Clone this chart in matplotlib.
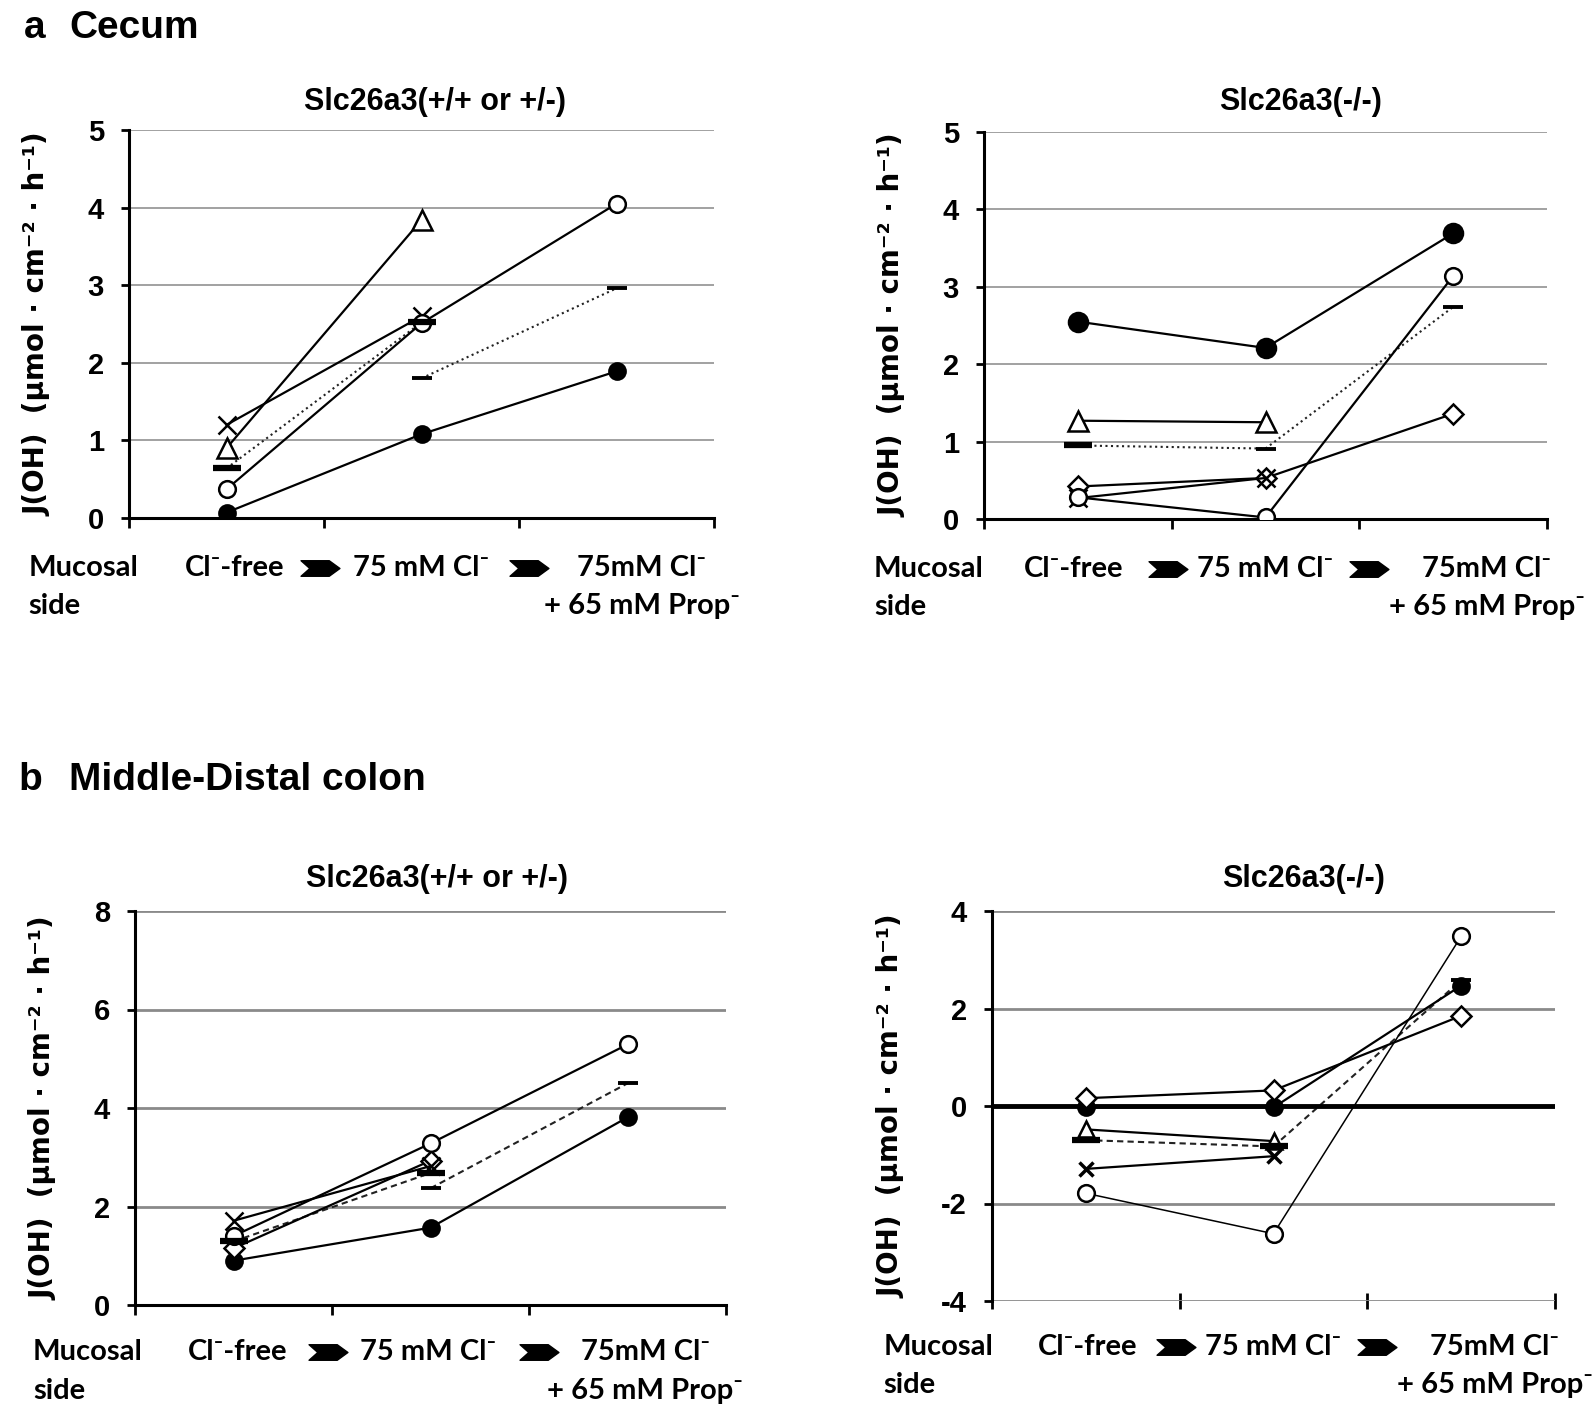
import numpy as np
import matplotlib
matplotlib.use("Agg")
import matplotlib.pyplot as plt
from matplotlib.path import Path
from matplotlib import transforms

plt.rcParams['axes.unicode_minus'] = False
plt.rcParams['font.family'] = ['Liberation Sans', 'DejaVu Sans']
plt.rcParams['font.weight'] = 'bold'

nan = np.nan
steps = [1, 2, 3]
step_row1 = ['Cl⁻-free', '75 mM Cl⁻', '75mM Cl⁻']
step_row2 = ['', '', '+ 65 mM Prop⁻']

# a: cecum, wild type / het
cec_wt_open = [0.37, 2.51, 4.05]
cec_wt_filled = [0.07, 1.08, 1.89]
cec_wt_tri = [0.90, 3.84, nan]
cec_wt_cross = [1.20, 2.60, nan]
cec_wt_mean_all = [0.64, 2.52, nan]
cec_wt_mean_prop = [nan, 1.80, 2.96]

# a: cecum, knockout
cec_ko_filled = [2.55, 2.21, 3.69]
cec_ko_open = [0.28, 0.02, 3.14]
cec_ko_tri = [1.27, 1.25, nan]
cec_ko_diam = [0.42, 0.53, 1.36]
cec_ko_cross = [0.27, 0.53, nan]
cec_ko_mean = [0.95, 0.91, 2.74]

# b: middle-distal colon, wild type / het
col_wt_open = [1.40, 3.28, 5.29]
col_wt_filled = [0.90, 1.57, 3.81]
col_wt_cross = [1.71, 2.82, nan]
col_wt_diam = [1.15, 2.93, nan]
col_wt_mean_all = [1.29, 2.68, nan]
col_wt_mean_prop = [nan, 2.37, 4.50]

# b: middle-distal colon, knockout
col_ko_open = [-1.79, -2.62, 3.48]
col_ko_filled = [-0.03, -0.03, 2.47]
col_ko_diam = [0.16, 0.32, 1.85]
col_ko_tri = [-0.48, -0.72, nan]
col_ko_cross = [-1.29, -1.03, nan]
col_ko_mean = [-0.70, -0.83, 2.58]

W, H = 1594, 1424
fig = plt.figure(figsize=(W / 100, H / 100), dpi=100)
K = 72 / 100  # px -> pt

calibri = ['Lato', 'DejaVu Sans']
ylab = 'J(OH)  (µmol · cm⁻² · h⁻¹)'

chev = Path([(-1, 0.4), (0.45, 0.4), (1, 0), (0.45, -0.4), (-1, -0.4), (-0.55, 0), (-1, 0.4)],
            [Path.MOVETO] + [Path.LINETO] * 5 + [Path.CLOSEPOLY])

OPEN = dict(marker='o', mfc='white', mec='k', ms=12, mew=1.8)
FILL = dict(marker='o', mfc='k', mec='k', ms=12, mew=1.5)
TRI = dict(marker='^', mfc='white', mec='k', ms=15, mew=1.8)
CROSS = dict(marker='x', mec='k', ms=13, mew=1.8)
DIAM = dict(marker='D', mfc='white', mec='k', ms=10, mew=1.8)


def axes_px(l, t, r, b):
    return fig.add_axes([l / W, 1 - b / H, (r - l) / W, (b - t) / H])


def setup(ax, ylim, yticks, grid_c, grid_lw):
    ax.set_xlim(0.5, 3.5)
    ax.set_ylim(*ylim)
    ax.set_yticks(yticks)
    ax.set_yticklabels([str(v) for v in yticks])
    ax.set_xticks([0.5, 1.5, 2.5, 3.5])
    ax.set_xticklabels([])
    for s in ['top', 'right']:
        ax.spines[s].set_visible(False)
    ax.spines['left'].set_linewidth(2.2)
    ax.spines['bottom'].set_linewidth(2.2)
    ax.tick_params(axis='y', length=6, width=2, pad=12, labelsize=21)
    ax.tick_params(axis='x', length=7, width=2)
    ax.yaxis.grid(True, color=grid_c, lw=grid_lw)
    ax.set_axisbelow(True)
    ax.set_ylabel(ylab, family=['DejaVu Sans'], fontsize=20, fontweight='bold', labelpad=26)


def step_labels(ax, xs, muc_x, dy1=50, dy2=88):
    tr = ax.get_xaxis_transform()
    ax.annotate('Mucosal', xy=(muc_x, 0), xycoords=tr, xytext=(0, -dy1 * K), textcoords='offset points',
                ha='left', va='center', family=calibri, fontsize=21, fontweight='bold', annotation_clip=False)
    ax.annotate('side', xy=(muc_x, 0), xycoords=tr, xytext=(0, -dy2 * K), textcoords='offset points',
                ha='left', va='center', family=calibri, fontsize=21, fontweight='bold', annotation_clip=False)
    for x, r1, r2 in zip(xs, step_row1, step_row2):
        ax.annotate(r1, xy=(x, 0), xycoords=tr, xytext=(0, -dy1 * K), textcoords='offset points',
                    ha='center', va='center', family=calibri, fontsize=21, fontweight='bold', annotation_clip=False)
        if r2:
            ax.annotate(r2, xy=(x, 0), xycoords=tr, xytext=(0, -dy2 * K), textcoords='offset points',
                        ha='center', va='center', family=calibri, fontsize=21, fontweight='bold',
                        annotation_clip=False)
    off = transforms.offset_copy(tr, fig=fig, x=0, y=-dy1, units='dots')
    ax.plot([1.48, 2.55], [0, 0], ls='none', marker=chev, ms=28, color='k', transform=off, clip_on=False)


def series(ax, y, style, lw=1.6, ls='-'):
    ax.plot(steps, y, color='k', lw=lw, ls=ls, zorder=3, **style)


def mean_line(ax, y, ls, thick_idx, thin_idx):
    ax.plot(steps, y, color='#222222', lw=1.5, ls=ls, zorder=2)
    for i in thick_idx:
        ax.plot([steps[i]], [y[i]], marker='_', ms=20, mew=4.5, color='k', zorder=5)
    for i in thin_idx:
        ax.plot([steps[i]], [y[i]], marker='_', ms=14, mew=2.8, color='k', zorder=5)


# ---------- a left
ax = axes_px(129, 130, 714, 518)
setup(ax, (0, 5), [0, 1, 2, 3, 4, 5], '#9a9a9a', 1.3)
mean_line(ax, cec_wt_mean_all, ':', [0, 1], [])
mean_line(ax, cec_wt_mean_prop, ':', [], [1, 2])
series(ax, cec_wt_tri, TRI)
series(ax, cec_wt_cross, CROSS)
series(ax, cec_wt_filled, FILL)
series(ax, cec_wt_open, OPEN)
step_labels(ax, [1.04, 2.0, 3.13], -0.015)

# ---------- a right
ax = axes_px(984, 132, 1547, 519)
setup(ax, (0, 5), [0, 1, 2, 3, 4, 5], '#9a9a9a', 1.3)
mean_line(ax, cec_ko_mean, ':', [0], [1, 2])
series(ax, cec_ko_filled, dict(FILL, ms=14))
series(ax, cec_ko_tri, TRI)
series(ax, cec_ko_diam, DIAM)
series(ax, cec_ko_cross, CROSS)
series(ax, cec_ko_open, OPEN)
step_labels(ax, [0.98, 2.0, 3.18], -0.086)

# ---------- b left
ax = axes_px(135, 911, 726, 1305)
setup(ax, (0, 8), [0, 2, 4, 6, 8], '#8a8a8a', 2.0)
mean_line(ax, col_wt_mean_all, (0, (3, 2)), [0, 1], [])
mean_line(ax, col_wt_mean_prop, (0, (3, 2)), [], [1, 2])
series(ax, col_wt_filled, FILL)
series(ax, col_wt_diam, DIAM)
series(ax, col_wt_cross, CROSS)
series(ax, col_wt_open, OPEN)
step_labels(ax, [1.02, 1.99, 3.09], -0.018, 47, 86)

# ---------- b right
ax = axes_px(992, 911, 1555, 1301)
setup(ax, (-4, 4), [-4, -2, 0, 2, 4], '#8a8a8a', 2.0)
ax.spines['bottom'].set_visible(False)
ax.tick_params(axis='x', direction='inout', length=12)
ax.axhline(0, color='k', lw=3.5, zorder=2.5)
mean_line(ax, col_ko_mean, (0, (3, 2)), [0, 1], [2])
series(ax, col_ko_filled, FILL)
series(ax, col_ko_tri, dict(TRI, ms=12))
series(ax, col_ko_cross, dict(CROSS, ms=10, mew=2.5))
series(ax, col_ko_diam, DIAM)
series(ax, col_ko_open, OPEN, lw=1.1)
step_labels(ax, [1.01, 2.0, 3.18], -0.08, 46, 84)

# titles and panel letters
fig.text(435 / W, 1 - 102 / H, 'Slc26a3(+/+ or +/-)', ha='center', va='center', fontsize=22, fontweight='bold')
fig.text(1301 / W, 1 - 102 / H, 'Slc26a3(-/-)', ha='center', va='center', fontsize=22, fontweight='bold')
fig.text(437 / W, 1 - 879 / H, 'Slc26a3(+/+ or +/-)', ha='center', va='center', fontsize=22, fontweight='bold')
fig.text(1304 / W, 1 - 879 / H, 'Slc26a3(-/-)', ha='center', va='center', fontsize=22, fontweight='bold')
fig.text(24 / W, 1 - 28 / H, 'a', ha='left', va='center', fontsize=28, fontweight='bold')
fig.text(69 / W, 1 - 28 / H, 'Cecum', ha='left', va='center', fontsize=28, fontweight='bold')
fig.text(18 / W, 1 - 780 / H, 'b', ha='left', va='center', fontsize=28, fontweight='bold')
fig.text(69 / W, 1 - 780 / H, 'Middle-Distal colon', ha='left', va='center', fontsize=28, fontweight='bold')

fig.savefig('out.png', dpi=100)
